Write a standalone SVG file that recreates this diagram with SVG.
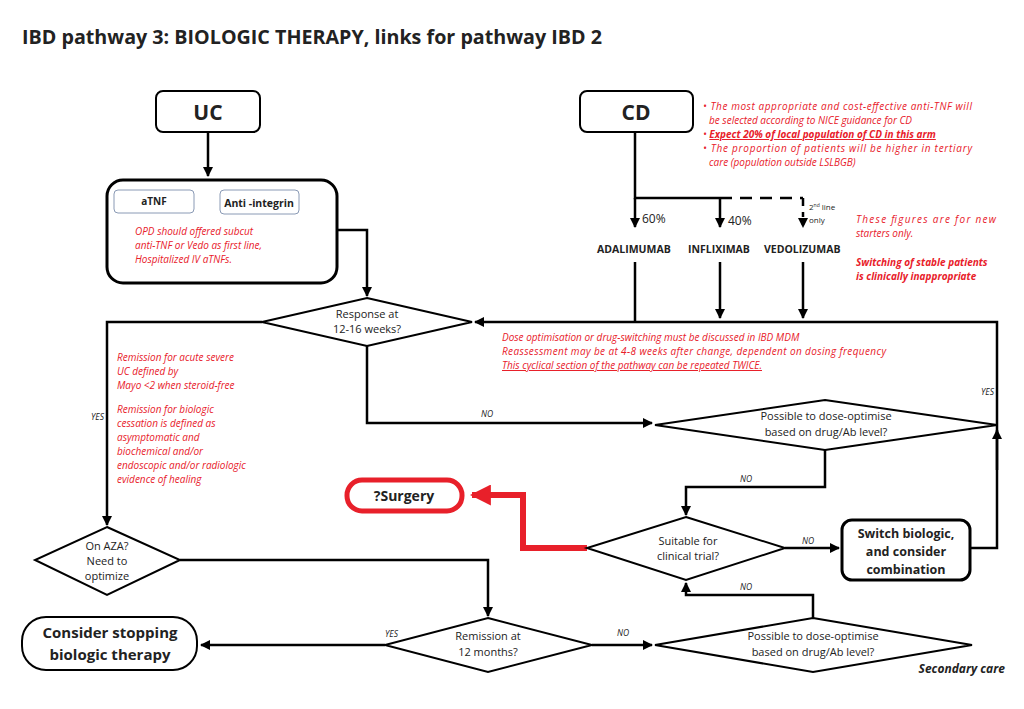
<svg xmlns="http://www.w3.org/2000/svg" width="1024" height="709" viewBox="0 0 1024 709">
<style>
text{font-family:"Open Sans","Liberation Sans",sans-serif;fill:#222}
.b{font-weight:bold}
.r{fill:#e8202a;font-style:italic;font-size:10px}
.n{font-size:11px}
.ln{fill:none;stroke:#000;stroke-width:2.5}
.sh{fill:#fff;stroke:#000;stroke-width:2}
.lab{font-size:8.5px;font-style:italic}
</style>
<defs>
<marker id="a" viewBox="0 0 10 10" refX="9" refY="5" markerWidth="4" markerHeight="4" orient="auto"><path d="M0,0L10,5L0,10z" fill="#000"/></marker>
<marker id="ra" viewBox="0 0 10 10" refX="9" refY="5" markerWidth="3.5" markerHeight="3.5" orient="auto"><path d="M0,0L10,5L0,10z" fill="#e8202a"/></marker>
</defs>
<rect width="1024" height="709" fill="#fff"/>
<text x="22" y="44" class="b" font-size="19" textLength="580" lengthAdjust="spacingAndGlyphs">IBD pathway 3: BIOLOGIC THERAPY, links for pathway IBD 2</text>
<g id="connectors">
<path class="ln" d="M208,132V176" marker-end="url(#a)"/>
<path class="ln" d="M337,230H367V296" marker-end="url(#a)"/>
<path class="ln" d="M635,132V198H720"/>
<path class="ln" d="M720,198H803" stroke-dasharray="12,8"/>
<path class="ln" d="M635,198V227" marker-end="url(#a)"/>
<path class="ln" d="M720,198V227" marker-end="url(#a)"/>
<path class="ln" d="M803,198V206"/>
<path class="ln" d="M803,212V227" stroke-dasharray="5,3" marker-end="url(#a)"/>
<path class="ln" d="M635,262V322"/>
<path class="ln" d="M720,262V318" marker-end="url(#a)"/>
<path class="ln" d="M803,262V318" marker-end="url(#a)"/>
<path class="ln" d="M970,548H997V322H475" marker-end="url(#a)"/>
<path class="ln" d="M997,470V430" marker-end="url(#a)"/>
<path class="ln" d="M262,322H107V525" marker-end="url(#a)"/>
<path class="ln" d="M367,346V423H652" marker-end="url(#a)"/>
<path class="ln" d="M825,450V487H686V515" marker-end="url(#a)"/>
<path class="ln" d="M785,548H839" marker-end="url(#a)"/>
<path class="ln" d="M813,618V595H686V583" marker-end="url(#a)"/>
<path class="ln" d="M180,560H488V616" marker-end="url(#a)"/>
<path class="ln" d="M385,645H201" marker-end="url(#a)"/>
<path class="ln" d="M592,645H652" marker-end="url(#a)"/>
<path d="M587,548H523V495H472" fill="none" stroke="#e8202a" stroke-width="6" marker-end="url(#ra)"/>
</g>
<g id="uc"><rect x="156" y="91" width="104" height="41" rx="7" class="sh"/><text x="208" y="120" text-anchor="middle" class="b" font-size="21">UC</text></g>
<g id="ucbox"><rect x="107" y="180" width="230" height="103" rx="16" fill="#fff" stroke="#000" stroke-width="3"/>
<rect x="114" y="190" width="80" height="23" rx="4" fill="#fff" stroke="#8a9ab5"/><text x="154" y="205" text-anchor="middle" class="b" font-size="10">aTNF</text>
<rect x="220" y="190" width="79" height="24" rx="4" fill="#fff" stroke="#8a9ab5"/><text x="259" y="207" text-anchor="middle" class="b" font-size="10.5">Anti -integrin</text>
<text class="r" x="135" y="235">OPD should offered subcut</text><text class="r" x="135" y="249">anti-TNF or Vedo as first line,</text><text class="r" x="135" y="263">Hospitalized IV aTNFs.</text></g>
<g id="cd"><rect x="580" y="91" width="113" height="41" rx="7" class="sh"/><text x="636" y="120" text-anchor="middle" class="b" font-size="21">CD</text></g>
<g id="cdnotes">
<text class="r" x="703" y="110" textLength="269">• The most appropriate and cost-effective anti-TNF will</text>
<text class="r" x="709" y="124">be selected according to NICE guidance for CD</text>
<text class="r" x="703" y="138"><tspan>• </tspan><tspan font-weight="bold" text-decoration="underline">Expect 20% of local population of CD in this arm</tspan></text>
<text class="r" x="703" y="152" textLength="269">• The proportion of patients will be higher in tertiary</text>
<text class="r" x="709" y="166">care (population outside LSLBGB)</text>
<text class="r" x="856" y="223" textLength="140">These figures are for new</text>
<text class="r" x="856" y="237">starters only.</text>
<text class="r b" x="856" y="266">Switching of stable patients</text>
<text class="r b" x="856" y="280">is clinically inappropriate</text>
</g>
<g id="drugs">
<text x="642" y="223" font-size="12">60%</text><text x="728" y="225" font-size="12">40%</text>
<text x="809" y="210" font-size="8">2<tspan font-size="5" dy="-3">nd</tspan><tspan dy="3"> line</tspan></text><text x="809" y="223" font-size="8">only</text>
<text x="597" y="253" class="b" font-size="10.5">ADALIMUMAB</text>
<text x="688" y="253" class="b" font-size="10.5">INFLIXIMAB</text>
<text x="764" y="253" class="b" font-size="10.5">VEDOLIZUMAB</text>
</g>
<g id="response"><path d="M367,298L472,322L367,346L262,322z" class="sh"/><text x="367" y="318" text-anchor="middle" class="n">Response at</text><text x="367" y="333" text-anchor="middle" class="n">12-16 weeks?</text></g>
<g id="mdm">
<text class="r" x="502" y="341">Dose optimisation or drug-switching must be discussed in IBD MDM</text>
<text class="r" x="502" y="355" textLength="384">Reassessment may be at 4-8 weeks after change, dependent on dosing frequency</text>
<text class="r" x="502" y="369" text-decoration="underline">This cyclical section of the pathway can be repeated  TWICE.</text>
</g>
<g id="remnotes">
<text class="r" x="117" y="361">Remission for acute severe</text><text class="r" x="117" y="375">UC defined by</text><text class="r" x="117" y="389">Mayo &lt;2 when steroid-free</text>
<text class="r" x="117" y="413">Remission for biologic</text><text class="r" x="117" y="427">cessation is defined as</text><text class="r" x="117" y="441">asymptomatic  and</text><text class="r" x="117" y="455">biochemical and/or</text><text class="r" x="117" y="469">endoscopic and/or radiologic</text><text class="r" x="117" y="483">evidence of healing</text>
</g>
<g id="labels">
<text class="lab" x="91" y="420">YES</text><text class="lab" x="481" y="417">NO</text><text class="lab" x="981" y="395">YES</text>
<text class="lab" x="740" y="482">NO</text><text class="lab" x="802" y="544">NO</text><text class="lab" x="740" y="590">NO</text>
<text class="lab" x="385" y="637">YES</text><text class="lab" x="617" y="636">NO</text>
</g>
<g id="dose1"><path d="M825,400L997,425L825,450L655,425z" class="sh"/><text x="826" y="420" text-anchor="middle" class="n">Possible to dose-optimise</text><text x="826" y="436" text-anchor="middle" class="n">based on drug/Ab level?</text></g>
<g id="surgery"><rect x="347" y="480" width="115" height="31" rx="15" fill="#fff" stroke="#e8202a" stroke-width="5"/><text x="404" y="501" text-anchor="middle" class="b" font-size="14">?Surgery</text></g>
<g id="trial"><path d="M686,517L785,548L686,580L587,548z" class="sh"/><text x="688" y="545" text-anchor="middle" class="n">Suitable for</text><text x="688" y="560" text-anchor="middle" class="n">clinical trial?</text></g>
<g id="switch"><rect x="842" y="520" width="128" height="60" rx="10" fill="#fff" stroke="#000" stroke-width="3"/><text x="906" y="538" text-anchor="middle" class="b" font-size="12.5">Switch biologic,</text><text x="906" y="556" text-anchor="middle" class="b" font-size="12.5">and consider</text><text x="906" y="574" text-anchor="middle" class="b" font-size="12.5">combination</text></g>
<g id="aza"><path d="M107,527L180,560L107,595L35,560z" class="sh"/><text x="107" y="550" text-anchor="middle" class="n">On AZA?</text><text x="107" y="565" text-anchor="middle" class="n">Need to</text><text x="107" y="580" text-anchor="middle" class="n">optimize</text></g>
<g id="stop"><rect x="22" y="617" width="175" height="53" rx="24" class="sh"/><text x="110" y="638" text-anchor="middle" class="b" font-size="15">Consider stopping</text><text x="110" y="660" text-anchor="middle" class="b" font-size="15">biologic therapy</text></g>
<g id="remission"><path d="M488,618L592,645L488,672L385,645z" class="sh"/><text x="488" y="640" text-anchor="middle" class="n">Remission at</text><text x="488" y="656" text-anchor="middle" class="n">12 months?</text></g>
<g id="dose2"><path d="M813,618L972,645L813,672L655,645z" class="sh"/><text x="813" y="640" text-anchor="middle" class="n">Possible to dose-optimise</text><text x="813" y="656" text-anchor="middle" class="n">based on drug/Ab level?</text></g>
<text x="1005" y="673" text-anchor="end" class="b" font-style="italic" font-size="12">Secondary care</text>
</svg>
